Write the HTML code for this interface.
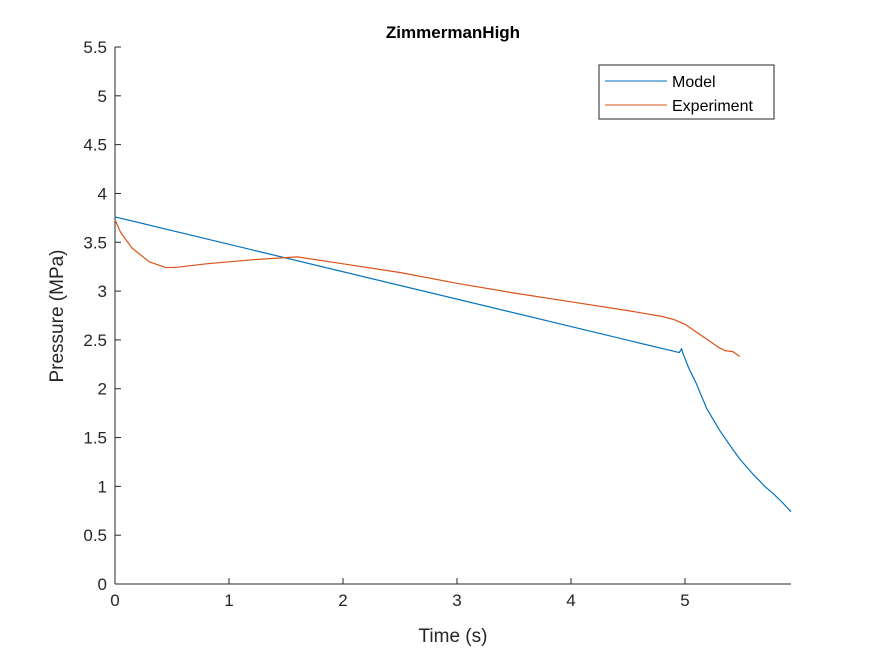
<!DOCTYPE html>
<html><head><meta charset="utf-8"><style>
body{margin:0;background:#fff}
svg{font-family:"Liberation Sans",sans-serif}
</style></head><body>
<svg id="chart" width="875" height="656">
<rect width="875" height="656" fill="#fff"/>
<text x="453" y="38" text-anchor="middle" font-weight="bold" font-size="17" fill="#000">ZimmermanHigh</text>
<g id="axes"></g>
<g id="series"></g>
<text x="453" y="642" text-anchor="middle" font-size="19" fill="#262626">Time (s)</text>
<text transform="translate(63,316) rotate(-90)" text-anchor="middle" font-size="19" fill="#262626">Pressure (MPa)</text>
<g>
<rect x="599" y="65" width="175" height="54" fill="#fff" stroke="#262626" stroke-width="1"/>
<line x1="605" y1="81" x2="667" y2="81" stroke="#0072BD"/>
<text x="672" y="87" font-size="16" fill="#000">Model</text>
<line x1="605" y1="105" x2="667" y2="105" stroke="#D95319"/>
<text x="672" y="111" font-size="16" fill="#000">Experiment</text>
</g>
</svg>
<script>
const xTicks=[0,1,2,3,4,5];
const yTicks=[0,0.5,1,1.5,2,2.5,3,3.5,4,4.5,5,5.5];
const modelT=[0,4.95,4.97,4.98,5.03,5.1,5.19,5.3,5.4,5.48,5.6,5.7,5.77,5.85,5.93];
const modelP=[3.76,2.37,2.41,2.37,2.22,2.05,1.8,1.58,1.41,1.28,1.12,1.0,0.93,0.84,0.74];
const expT=[0,0.05,0.15,0.3,0.45,0.55,0.8,1.2,1.6,2,2.5,3,3.5,4,4.5,4.8,4.9,5.0,5.1,5.2,5.3,5.35,5.42,5.48];
const expP=[3.73,3.6,3.44,3.3,3.24,3.245,3.28,3.32,3.35,3.28,3.19,3.08,2.98,2.89,2.8,2.74,2.71,2.66,2.58,2.5,2.42,2.39,2.38,2.33];
const X0=115,X1=791,Y0=584,Y1=47,XMAX=5.93,YMAX=5.5;
const sx=t=>X0+t/XMAX*(X1-X0);
const sy=p=>Y0-p/YMAX*(Y0-Y1);
const NS="http://www.w3.org/2000/svg";
const ax=document.getElementById('axes');
function mk(tag,attrs,parent){const e=document.createElementNS(NS,tag);for(const k in attrs)e.setAttribute(k,attrs[k]);parent.appendChild(e);return e;}
let l=mk('line',{x1:X0,y1:Y0,x2:X1,y2:Y0,stroke:'#262626'},ax);


l=mk('line',{x1:X0,y1:Y0,x2:X0,y2:Y1,stroke:'#262626'},ax);


xTicks.forEach(t=>{
  const x=sx(t);
  const tk=mk('line',{x1:x,y1:Y0,x2:x,y2:Y0-6,stroke:'#262626'},ax);
  
  
  const tx=mk('text',{x:x,y:Y0+22,'text-anchor':'middle','font-size':17,fill:'#262626'},ax);
  tx.textContent=t;
  
  
});
yTicks.forEach(p=>{
  const y=sy(p);
  const tk=mk('line',{x1:X0,y1:y,x2:X0+6,y2:y,stroke:'#262626'},ax);
  
  
  const tx=mk('text',{x:X0-8,y:y+6,'text-anchor':'end','font-size':17,fill:'#262626'},ax);
  tx.textContent=p;
  
  
});
const sg=document.getElementById('series');
const pts=(T,P)=>T.map((t,i)=>sx(t).toFixed(1)+','+sy(P[i]).toFixed(1)).join(' ');
let m=mk('polyline',{points:pts(modelT,modelP),fill:'none',stroke:'#0072BD','stroke-width':1.2,'stroke-linejoin':'round'},sg);


let e=mk('polyline',{points:pts(expT,expP),fill:'none',stroke:'#D95319','stroke-width':1.2,'stroke-linejoin':'round'},sg);


</script>
</body></html>
